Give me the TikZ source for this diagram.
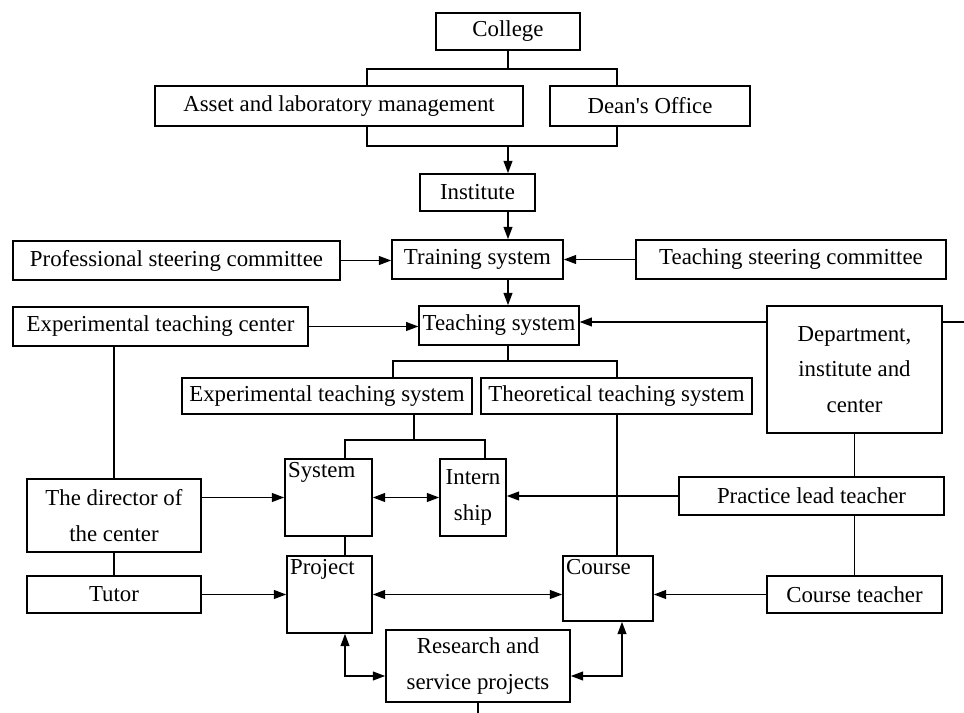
\documentclass[tikz,border=0pt]{standalone}
\usepackage{fontspec}
\setmainfont{Liberation Serif}
\usetikzlibrary{arrows.meta}

\begin{document}
\begin{tikzpicture}
[x=0.2mm,y=-0.2mm,>={Triangle[length=7pt,width=5pt]},
 boxDecorate/.style={shape=rectangle,draw,line width=0.9pt,inner sep=2pt,
   align=center,font=\fontsize{13}{20}\selectfont},
 lineDecorate/.style={-,line width=0.9pt},
 arrowDecorate/.style={->,line width=0.9pt},
 bothDecorate/.style={<->,line width=0.9pt}]
\useasboundingbox (0,0) rectangle (964,713);
%% boxes with centred text
\foreach \nodename/\x/\y/\w/\h/\txt in {
  college/508/31.5/144/37/College,
  asset/339/106/368/40/Asset and laboratory management,
  dean/650/106/200/40/{Dean\textquotesingle s Office},
  institute/477.5/192.5/115/37/Institute,
  training/477.5/259.5/171/39/Training system,
  prof/176.5/260.5/327/39/Professional steering committee,
  tsc/791/259.5/310/39/Teaching steering committee,
  teaching/499/325.5/158/39/Teaching system,
  etc/160.5/326.5/295/39/Experimental teaching center,
  dept/854.5/369.5/175/127/{Department,\\institute and\\center},
  ets/327/396/290/36/Experimental teaching system,
  tts/616.5/396/271/36/Theoretical teaching system,
  internship/473/497.5/66/77/{Intern\\ship},
  director/114/515.5/174/73/{The director of\\the center},
  practice/811.5/496/265/38/Practice lead teacher,
  tutor/114/594.5/174/37/Tutor,
  cteacher/854.5/594.5/175/37/Course teacher,
  research/478/666/184/72/{Research and\\service projects}}
{
  \node (\nodename) at (\x,\y) [boxDecorate,minimum width=\w*0.2mm,
    minimum height=\h*0.2mm] {\txt};
}
%% boxes with text in the corner
\node (system) at (328.5,497.5) [boxDecorate,minimum width=87*0.2mm,
  minimum height=77*0.2mm,
  label={[name=systemText,anchor=north west,inner sep=2pt,font=\fontsize{13}{20}\selectfont]north west:System}] {};
\node (project) at (329.5,594.5) [boxDecorate,minimum width=85*0.2mm,
  minimum height=77*0.2mm,
  label={[name=projectText,anchor=north west,inner sep=2pt,font=\fontsize{13}{20}\selectfont]north west:Project}] {};
\node (course) at (608,588.5) [boxDecorate,minimum width=90*0.2mm,
  minimum height=65*0.2mm,
  label={[name=courseText,anchor=north west,inner sep=2pt,font=\fontsize{13}{20}\selectfont]north west:Course}] {};
%% fork and bend points
\coordinate (fork1) at (508,69);
\coordinate (fork1l) at (367,69);
\coordinate (fork1r) at (617,69);
\coordinate (fork2) at (508,146);
\coordinate (fork2l) at (367,146);
\coordinate (fork2r) at (617,146);
\coordinate (fork3) at (508,361);
\coordinate (fork3l) at (393,361);
\coordinate (fork3r) at (617,361);
\coordinate (fork4) at (414,440);
\coordinate (fork4l) at (345,440);
\coordinate (fork4r) at (485,440);
\coordinate (bendl) at (345,676);
\coordinate (bendr) at (622,676);
\coordinate (rightEnd) at (964,322);
\coordinate (bottomEnd) at (478,713);
%% plain lines
\draw[lineDecorate] (college.south) -- (fork1);
\draw[lineDecorate] (asset.north -| fork1l) -- (fork1l) -- (fork1r) -- (dean.north -| fork1r);
\draw[lineDecorate] (asset.south -| fork2l) -- (fork2l) -- (fork2r) -- (dean.south -| fork2r);
\draw[lineDecorate] (teaching.south -| fork3) -- (fork3);
\draw[lineDecorate] (ets.north -| fork3l) -- (fork3l) -- (fork3r) -- (tts.north -| fork3r);
\draw[lineDecorate] (ets.south -| fork4) -- (fork4);
\draw[lineDecorate] (system.north -| fork4l) -- (fork4l) -- (fork4r) -- (internship.north -| fork4r);
\draw[lineDecorate] (tts.south -| fork3r) -- (course.north -| fork3r);
\draw[lineDecorate] (etc.south -| director.north) -- (director.north);
\draw[lineDecorate] (dept.south) -- (practice.north -| dept.south);
\draw[lineDecorate] (practice.south -| dept.south) -- (cteacher.north -| dept.south);
\draw[lineDecorate] (system.south -| fork4l) -- (project.north -| fork4l);
\draw[lineDecorate] (director.south) -- (tutor.north);
\draw[lineDecorate] (research.south) -- (research.south |- bottomEnd);
\draw[lineDecorate] (dept.east |- rightEnd) -- (rightEnd);
%% arrows
\draw[arrowDecorate] (fork2) -- (institute.north -| fork2);
\draw[arrowDecorate] (institute.south -| fork2) -- (training.north -| fork2);
\draw[arrowDecorate] (training.south -| fork2) -- (teaching.north -| fork2);
\draw[arrowDecorate] (prof.east) -- (training.west |- prof.east);
\draw[arrowDecorate] (tsc.west) -- (training.east |- tsc.west);
\draw[arrowDecorate] (etc.east) -- (teaching.west |- etc.east);
\draw[arrowDecorate] (dept.west |- rightEnd) -- (teaching.east |- rightEnd);
\draw[arrowDecorate] (director.east |- system.west) -- (system.west);
\draw[bothDecorate] (system.east) -- (internship.west);
\draw[arrowDecorate] (practice.west) -- (internship.east |- practice.west);
\draw[arrowDecorate] (tutor.east) -- (project.west);
\draw[bothDecorate] (project.east) -- (course.west |- project.east);
\draw[arrowDecorate] (cteacher.west) -- (course.east |- cteacher.west);
\draw[bothDecorate] (project.south -| bendl) -- (bendl) -- (research.west |- bendl);
\draw[bothDecorate] (course.south -| bendr) -- (bendr) -- (research.east |- bendr);
\end{tikzpicture}
\end{document}
